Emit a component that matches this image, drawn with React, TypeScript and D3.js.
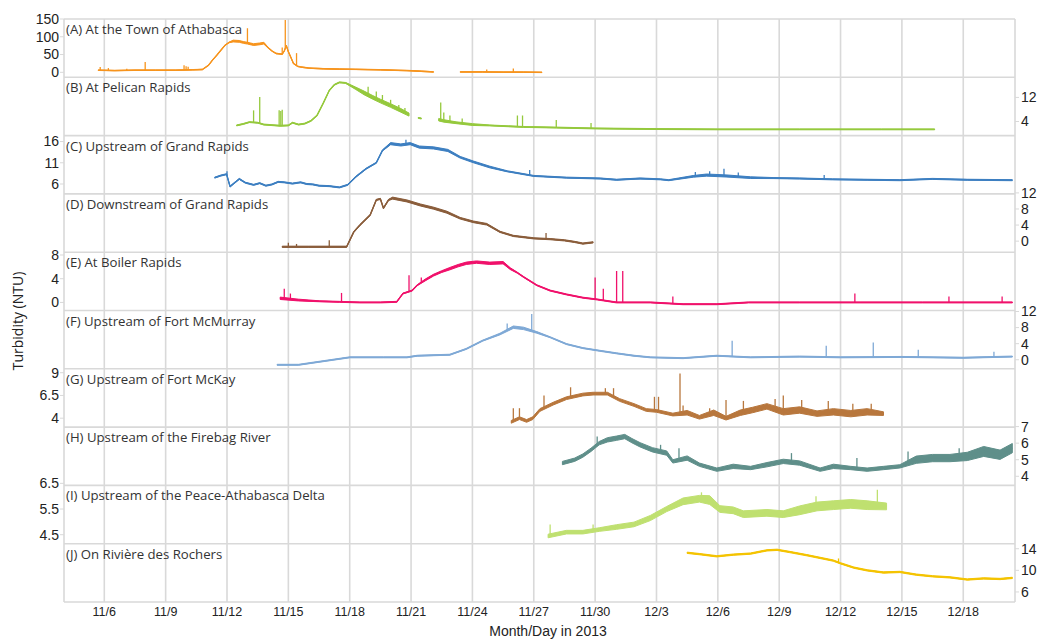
import React from "react";
import * as d3 from "d3";

// ---------------- DATA ----------------
// x values are "November day numbers" (Dec d = 30 + d), y values are turbidity (NTU)
// optional third number = half spread of the noisy band
type Pt = [number, number | null, number?];

const panelNames = [
  "(A) At the Town of Athabasca",
  "(B) At Pelican Rapids",
  "(C) Upstream of Grand Rapids",
  "(D) Downstream of Grand Rapids",
  "(E) At Boiler Rapids",
  "(F) Upstream of Fort McMurray",
  "(G) Upstream of Fort McKay",
  "(H) Upstream of the Firebag River",
  "(I) Upstream of the Peace-Athabasca Delta",
  "(J) On Rivière des Rochers",
];

const panelColors = ["#f7941d", "#95c93d", "#3d7fc1", "#8a5d3b", "#f0116b", "#7fa9d6", "#b8773d", "#5f8f8a", "#bfe070", "#f4c300"];
const axisSides = ["left", "right", "left", "right", "left", "right", "left", "right", "left", "right"];
const yDomains: [number, number][] = [
  [-14, 150], [-0.67, 18.67], [3.67, 17.4], [-2.75, 11.75], [-1.36, 8.47],
  [-2.25, 12.25], [3.02, 9.43], [3.45, 6.97], [4.15, 6.42], [4.14, 14.93],
];
const yTicks = [
  [0, 50, 100, 150], [4, 12], [6, 11, 16], [0, 4, 8, 12], [0, 4, 8],
  [0, 4, 8, 12], [4, 6.5, 9], [4, 5, 6, 7], [4.5, 5.5, 6.5], [6, 10, 14],
];
const seriesNoise = [0.8, 0.15, 0.12, 0.15, 0.08, 0.12, 0.15, 0.1, 0.07, 0.12];

const tickLabels = ["11/6", "11/9", "11/12", "11/15", "11/18", "11/21", "11/24", "11/27", "11/30", "12/3", "12/6", "12/9", "12/12", "12/15", "12/18"];

const seriesA: Pt[] = [
  [5.7, 6], [6.5, 5], [7.5, 6], [8.5, 6], [9.5, 6], [10.3, 7], [10.8, 8], [11.1, 20], [11.3, 35], [11.5, 48],
  [11.7, 62], [11.9, 76], [12.1, 84], [12.3, 88, 2.5], [12.6, 87, 2.5], [12.8, 84, 2.5], [13.0, 82, 2.5], [13.3, 78, 2.5],
  [13.6, 80, 2.5], [13.8, 82, 2.5], [14.0, 70], [14.2, 60], [14.4, 53], [14.7, 51], [14.8, 60], [14.9, 75], [15.0, 58],
  [15.1, 45], [15.25, 25], [15.45, 17], [15.6, 15], [16.0, 12], [16.7, 10], [17.5, 9], [18.3, 8.5], [19.5, 7],
  [20.8, 5], [21.5, 3], [22.1, 1], [22.2, null], [23.4, 1], [24.5, 1], [25.5, 0.5], [26.5, 0.5], [27.4, 0],
];
const spikesA: [number, number][] = [
  [5.8, 15], [6.2, 12], [7.1, 10], [8.0, 29], [9.9, 20], [10.0, 17], [10.1, 16], [13.0, 124],
  [14.7, 70], [14.85, 147], [15.4, 54], [24.7, 8], [26.0, 11],
];

const seriesB: Pt[] = [
  [12.47, 2.7], [12.8, 3.2], [13.1, 3.8], [13.5, 3.6], [13.8, 3.0], [14.2, 2.8], [14.6, 2.6], [15.0, 2.7],
  [15.2, 3.6], [15.5, 3.0], [15.8, 3.3], [16.1, 4.2], [16.4, 6], [16.7, 10], [17.0, 14.3], [17.25, 16.2],
  [17.5, 17], [17.8, 16.8], [18.3, 15, 0.4], [18.7, 13.5, 0.6], [19.1, 12.1, 0.6], [19.5, 10.8, 0.6],
  [20.0, 9.3, 0.6], [20.5, 7.7, 0.6], [20.9, 6.3, 0.5], [21.0, null], [21.35, 5.2], [21.5, 5.0], [21.6, null],
  [22.35, 4.6, 0.4], [22.6, 4.2, 0.4], [23.2, 3.6, 0.3], [24.0, 3.0, 0.3], [24.85, 2.7], [26.5, 2.2], [28.1, 2.0],
  [30, 1.7], [33, 1.5], [36, 1.4], [40, 1.4], [44, 1.4], [46.6, 1.4],
];
const spikesB: [number, number][] = [
  [13.3, 7.7], [13.6, 12.1], [14.55, 7.7], [14.63, 7.5], [14.7, 7.9], [18.9, 15.5], [19.3, 14], [19.6, 12.8],
  [20.0, 11.2], [20.4, 9.5], [20.7, 8.5], [22.45, 10.3], [22.6, 7], [22.9, 6], [23.5, 5], [26.2, 6],
  [26.45, 6], [28.1, 4.5], [29.8, 3.5],
];

const seriesC: Pt[] = [
  [11.4, 7.5], [11.7, 8.0], [11.98, 8.3], [12.15, 5.4], [12.3, 6.0], [12.6, 7.2], [12.9, 6.3], [13.3, 5.8],
  [13.6, 6.2], [13.9, 5.6], [14.2, 5.9], [14.5, 6.5], [14.8, 6.4], [15.2, 6.1], [15.6, 6.4], [15.9, 6.0],
  [16.2, 5.9], [16.5, 5.6], [17.0, 5.5], [17.5, 5.2], [17.9, 5.8], [18.3, 7.7], [18.8, 9.6], [19.3, 11.0],
  [19.6, 13.9], [20.0, 15.5, 0.25], [20.5, 15.2, 0.25], [20.96, 15.5, 0.25], [21.4, 14.7, 0.25], [22.1, 14.5, 0.25],
  [22.8, 13.9, 0.25], [23.4, 12.3, 0.2], [24.05, 11.2, 0.2], [24.85, 10.0, 0.2], [25.7, 9.0], [27.0, 7.9],
  [28.6, 7.5], [30.25, 7.3], [31.05, 7.0], [32.2, 7.3], [33.2, 7.1], [33.6, 6.9], [34.8, 7.8, 0.2],
  [35.45, 8.1, 0.25], [36.4, 7.9, 0.25], [37.6, 7.5, 0.2], [38.7, 7.4], [40.0, 7.3], [41.6, 7.1], [43.3, 7.0],
  [44.9, 6.9], [46.5, 7.2], [48.2, 7.0], [50.4, 6.9],
];
const spikesC: [number, number][] = [[12.0, 9.0], [20.75, 16.4], [26.8, 9.3], [34.9, 8.8], [35.6, 9.0], [36.3, 9.6], [37.0, 8.7], [41.2, 8.1]];

const seriesD: Pt[] = [
  [14.7, -1.4], [16.0, -1.4], [17.85, -1.4], [18.2, 2.3], [18.5, 4.0], [19.0, 6.5], [19.3, 10.25], [19.5, 10.5],
  [19.65, 8.2], [19.9, 10.25], [20.1, 10.7, 0.25], [20.8, 10.0, 0.25], [21.45, 9.0, 0.25], [22.1, 8.2, 0.25],
  [22.75, 7.2, 0.25], [23.4, 5.7, 0.2], [24.05, 4.8, 0.2], [24.7, 4.2, 0.2], [25.35, 2.3], [26.0, 1.3],
  [27.0, 0.7], [27.8, 0.5], [28.5, 0.2], [29.0, -0.2], [29.4, -0.6], [29.9, -0.3],
];
const spikesD: [number, number][] = [[15.0, -0.4], [15.4, -0.7], [17.0, 0.25], [27.6, 2.0]];

const seriesE: Pt[] = [
  [14.6, 0.7, 0.2], [15.5, 0.4, 0.15], [16.5, 0.2], [17.5, 0.1], [18.5, 0], [19.5, 0], [20.3, 0.1], [20.6, 1.5],
  [21.05, 2.0], [21.3, 2.9], [21.7, 3.8, 0.15], [22.1, 4.6, 0.15], [22.5, 5.2, 0.15], [22.9, 5.7, 0.2],
  [23.3, 6.2, 0.2], [23.7, 6.6, 0.2], [24.2, 6.8, 0.2], [24.85, 6.6, 0.2], [25.5, 6.7, 0.2], [25.85, 5.7, 0.15],
  [26.2, 5.0], [26.5, 4.3], [27.15, 2.9], [27.8, 2.0], [28.6, 1.35], [29.4, 0.8], [30.1, 0.5], [31.05, 0],
  [32.7, 0], [34.3, -0.3], [35.95, -0.3], [37.5, 0], [40, 0], [43, 0], [46, 0], [50.4, 0],
];
const spikesE: [number, number][] = [
  [14.8, 2.3], [15.1, 1.5], [17.6, 1.6], [20.9, 4.6], [21.5, 4.2], [30.0, 4.2], [30.4, 2.3], [31.05, 5.3],
  [31.35, 5.3], [33.8, 1.0], [42.7, 1.5], [47.3, 1.0], [49.9, 1.0],
];

const seriesF: Pt[] = [
  [14.45, -1.25], [15.5, -1.25], [18.0, 0.6], [19.65, 0.6], [20.8, 0.6], [21.3, 1.0], [22.9, 1.25],
  [23.7, 2.7], [24.5, 4.75], [25.35, 6.4, 0.2], [26.0, 8.1, 0.3], [26.5, 7.8, 0.3], [27.15, 6.8, 0.2],
  [27.8, 5.6], [28.6, 3.9], [29.4, 2.9], [30.2, 2.25], [31.05, 1.6], [31.9, 1.0], [32.7, 0.6], [34.3, 0.4],
  [35.95, 1.0], [37.6, 0.6], [40, 0.8], [42, 0.6], [45, 0.7], [48, 0.5], [50.4, 0.8],
];
const spikesF: [number, number][] = [[25.7, 9.0], [26.9, 11.4], [36.7, 4.75], [41.3, 3.5], [43.6, 4.3], [45.8, 2.5], [49.5, 2]];

const seriesG: Pt[] = [
  [25.9, 3.6], [26.3, 4.0], [26.65, 3.7], [26.95, 4.0], [27.3, 4.9], [27.95, 5.6], [28.6, 6.2], [29.4, 6.6],
  [29.9, 6.7], [30.6, 6.7], [31.2, 6.0], [31.9, 5.45], [32.5, 4.9], [33.0, 4.8], [33.8, 4.4], [34.5, 4.6, 0.25],
  [35.1, 4.1, 0.2], [35.8, 4.6, 0.3], [36.4, 4.0, 0.2], [37.1, 4.6, 0.3], [37.7, 4.9, 0.3], [38.4, 5.3, 0.3],
  [39.2, 4.7, 0.35], [40.0, 4.9, 0.35], [40.85, 4.5, 0.3], [41.65, 4.7, 0.35], [42.5, 4.5, 0.35],
  [43.3, 4.7, 0.35], [44.1, 4.5, 0.2],
];
const spikesG: [number, number][] = [
  [26.0, 5.1], [26.3, 5.1], [27.5, 6.5], [28.8, 7.4], [30.5, 7.3], [30.9, 7.3], [32.9, 6.35], [33.1, 6.35],
  [34.15, 8.9], [34.3, 5.4], [35.6, 5.1], [36.4, 6.0], [37.25, 5.9], [38.8, 6.1], [39.2, 6.5], [40.1, 6.0],
  [41.4, 5.9], [42.6, 5.6], [43.5, 5.6],
];

const seriesH: Pt[] = [
  [28.4, 4.8], [29.0, 5.0], [29.4, 5.25], [29.8, 5.6], [30.2, 6.0], [30.6, 6.2, 0.13], [31.05, 6.3, 0.13],
  [31.45, 6.4, 0.13], [31.8, 6.15, 0.13], [32.2, 5.9, 0.13], [32.8, 5.6, 0.13], [33.5, 5.4, 0.13], [33.8, 4.9],
  [34.5, 5.1, 0.13], [35.1, 4.7], [35.95, 4.4], [36.75, 4.6, 0.13], [37.6, 4.5], [38.4, 4.7, 0.13],
  [39.2, 4.9, 0.13], [40.0, 4.8, 0.13], [41.0, 4.4], [41.65, 4.6, 0.13], [42.5, 4.5], [43.3, 4.4],
  [44.1, 4.5], [44.9, 4.6], [45.7, 5.0, 0.22], [46.5, 5.1, 0.22], [47.35, 5.1, 0.22], [48.2, 5.2, 0.25],
  [49.0, 5.5, 0.3], [49.8, 5.3, 0.28], [50.4, 5.7, 0.28],
];
const spikesH: [number, number][] = [[30.1, 6.4], [33.2, 5.9], [34.1, 5.7], [39.6, 5.4], [42.8, 5.1], [45.3, 5.5], [47.8, 5.7]];

const seriesI: Pt[] = [
  [27.7, 4.45], [28.6, 4.6], [29.4, 4.6], [30.2, 4.7], [31.05, 4.8, 0.09], [31.9, 4.9, 0.09], [32.7, 5.15, 0.1],
  [33.5, 5.5, 0.1], [34.3, 5.8, 0.13], [35.1, 5.9, 0.13], [35.6, 5.85, 0.17], [36.1, 5.5, 0.13],
  [36.75, 5.45, 0.13], [37.25, 5.3, 0.13], [38.4, 5.35, 0.13], [39.2, 5.3, 0.13], [40.0, 5.45, 0.17],
  [40.85, 5.6, 0.17], [41.65, 5.65, 0.17], [42.5, 5.7, 0.17], [43.3, 5.65, 0.17], [44.25, 5.6, 0.13],
];
const spikesI: [number, number][] = [[27.8, 4.9], [29.9, 4.9], [35.2, 6.15], [40.8, 6.0], [43.8, 6.25]];

const seriesJ: Pt[] = [
  [34.5, 13.25], [35.1, 13.0], [35.95, 12.6], [36.75, 12.9], [37.6, 13.1], [38.4, 13.7], [38.9, 13.8],
  [39.5, 13.4], [40.35, 12.8], [41.0, 12.3], [41.65, 11.8], [42.0, 11.3], [42.65, 10.5], [43.3, 10.0],
  [44.1, 9.6], [44.9, 9.7], [45.7, 9.2], [46.5, 8.9], [47.35, 8.7], [48.2, 8.3], [49.0, 8.5], [49.8, 8.4],
  [50.4, 8.6],
];
const spikesJ: [number, number][] = [[41.9, 12.2]];

const allSeries = [seriesA, seriesB, seriesC, seriesD, seriesE, seriesF, seriesG, seriesH, seriesI, seriesJ];
const allSpikes = [spikesA, spikesB, spikesC, spikesD, spikesE, spikesF, spikesG, spikesH, spikesI, spikesJ];

// ---------------- LAYOUT ----------------
const W = 1041;
const H = 639;
const LEFT = 64;
const RIGHT = 1015;
const TOP = 19;
const BOTTOM = 602;
const GRID = "#d9d9d9";
const SANS = "'Liberation Sans', Arial, sans-serif";
const LABEL_FONT = "'Open Sans', 'Noto Sans', sans-serif";

const base = new Date(2013, 10, 1).getTime();
const toDate = (d: number) => new Date(base + (d - 1) * 864e5);
const parseTick = d3.timeParse("%m/%d/%Y");

export default function App() {
  const x = d3.scaleTime().domain([toDate(4.03), toDate(50.53)]).range([LEFT, RIGHT]);
  const panelH = (BOTTOM - TOP) / panelNames.length;
  const tickDates = tickLabels.map((t) => parseTick(t + "/2013") as Date);

  return (
    <svg width={W} height={H} style={{ position: "absolute", left: 0, top: 0, background: "#fff" }}>
      {tickDates.map((t, i) => (
        <line key={"vg" + i} x1={x(t)} x2={x(t)} y1={TOP} y2={BOTTOM} stroke={GRID} strokeWidth={1.6} />
      ))}
      {d3.range(panelNames.length + 1).map((i) => (
        <line key={"hg" + i} x1={LEFT} x2={RIGHT} y1={TOP + i * panelH} y2={TOP + i * panelH} stroke={GRID} strokeWidth={1.6} />
      ))}
      <line x1={LEFT} x2={LEFT} y1={TOP} y2={BOTTOM} stroke={GRID} strokeWidth={1.6} />
      <line x1={RIGHT} x2={RIGHT} y1={TOP} y2={BOTTOM} stroke={GRID} strokeWidth={1.6} />

      {panelNames.map((name, i) => {
        const y0 = TOP + i * panelH;
        const y = d3.scaleLinear().domain(yDomains[i]).range([y0 + panelH, y0]);
        const pts = allSeries[i];
        const noise = seriesNoise[i];
        const color = panelColors[i];
        const defined = (p: Pt) => p[1] !== null;
        const area = d3
          .area<Pt>()
          .defined(defined)
          .x((p) => x(toDate(p[0])))
          .y0((p) => y((p[1] as number) - (p[2] ?? noise)))
          .y1((p) => y((p[1] as number) + (p[2] ?? noise)));
        const line = d3
          .line<Pt>()
          .defined(defined)
          .x((p) => x(toDate(p[0])))
          .y((p) => y(p[1] as number));
        const valid = pts.filter(defined);
        const interp = d3.scaleLinear().domain(valid.map((p) => p[0])).range(valid.map((p) => p[1] as number));
        const side = axisSides[i];
        return (
          <g key={"p" + i}>
            <path d={area(pts) || ""} fill={color} stroke={color} strokeWidth={1} strokeLinejoin="round" />
            <path d={line(pts) || ""} fill="none" stroke={color} strokeWidth={1.3} strokeLinejoin="round" />
            {allSpikes[i].map((s, k) => (
              <line
                key={k}
                x1={x(toDate(s[0]))}
                x2={x(toDate(s[0]))}
                y1={y(interp(s[0]))}
                y2={y(s[1])}
                stroke={color}
                strokeWidth={1.3}
              />
            ))}
            <text x={LEFT + 2} y={y0 + 15} fontFamily={LABEL_FONT} fontSize={13.2} fill="#333">
              {name}
            </text>
            {yTicks[i].map((t, k) => (
              <g key={"t" + k}>
                <line
                  x1={side === "left" ? LEFT - 4 : RIGHT}
                  x2={side === "left" ? LEFT : RIGHT + 4}
                  y1={y(t)}
                  y2={y(t)}
                  stroke={GRID}
                  strokeWidth={1}
                />
                <text
                  x={side === "left" ? LEFT - 5 : RIGHT + 6}
                  y={y(t)}
                  dy="0.35em"
                  textAnchor={side === "left" ? "end" : "start"}
                  fontFamily={SANS}
                  fontSize={14}
                  fill="#222"
                >
                  {t}
                </text>
              </g>
            ))}
          </g>
        );
      })}

      {tickDates.map((t, i) => (
        <text key={"xl" + i} x={x(t)} y={616} textAnchor="middle" fontFamily={SANS} fontSize={12.5} fill="#222">
          {tickLabels[i]}
        </text>
      ))}
      <text x={548} y={636} textAnchor="middle" fontFamily={SANS} fontSize={14} fill="#222">
        Month/Day in 2013
      </text>
      <text
        transform={`translate(23,321) rotate(-90)`}
        textAnchor="middle"
        fontFamily={LABEL_FONT}
        fontSize={14}
        fill="#222"
      >
        Turbidity (NTU)
      </text>
    </svg>
  );
}
